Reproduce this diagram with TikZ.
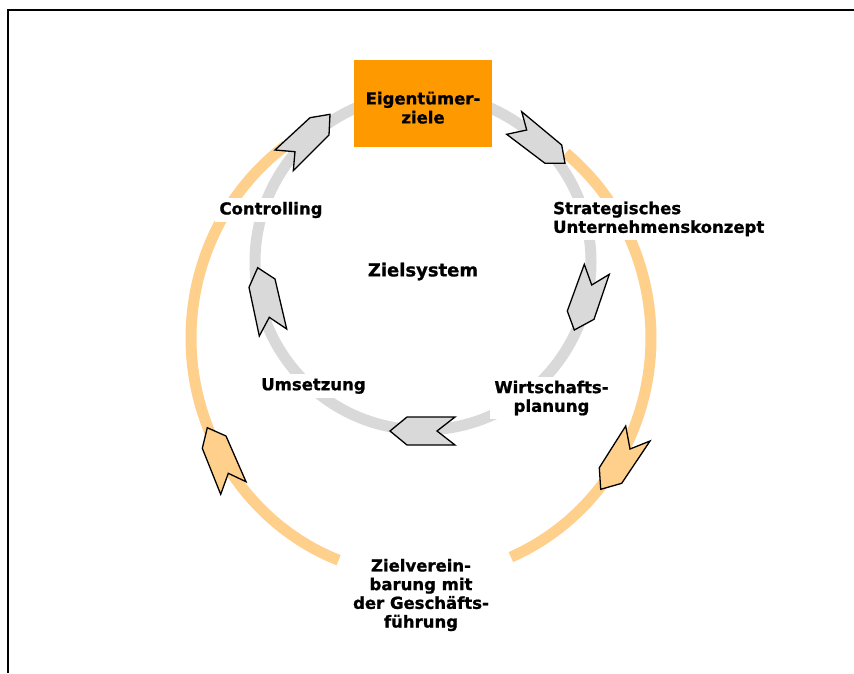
\documentclass[tikz,border=0pt]{standalone}
\usepackage{fontspec}
\setmainfont{DejaVu Sans}[BoldFeatures={FakeBold=1}]
\definecolor{ringgray}{HTML}{D9D9D9}
\definecolor{ringorange}{HTML}{FFD08C}
\definecolor{boxorange}{HTML}{FF9900}
\begin{document}
\begin{tikzpicture}[x=1pt,y=-1pt,
  lbl/.style={fill=white, inner sep=4pt, font=\bfseries\fontsize{16.5}{18.7}\selectfont, align=center},
  grayring/.style={draw=ringgray, line width=11pt},
  orangering/.style={draw=ringorange, line width=11pt},
  grayarr/.style={draw=black, fill=ringgray, line width=1.3pt, line join=miter},
  orangearr/.style={draw=black, fill=ringorange, line width=1.3pt, line join=miter},
  frame/.style={draw=black, line width=2pt}]
\useasboundingbox (0,0) rectangle (854,673);
\fill[white] (0,0) rectangle (854,673);
% frame
\coordinate (fbl) at (7.5,673);
\coordinate (ftl) at (7.5,9.5);
\coordinate (ftr) at (854,9.5);
\draw[frame] (fbl) -- (ftl) -- (ftr);
% outer orange ring (two arcs)
\draw[orangering] plot[domain=111:234, samples=90, smooth] ({421+230*cos(\x)},{338+238*sin(\x)});
\draw[orangering] plot[domain=-51:67, samples=90, smooth] ({421+230*cos(\x)},{338+238*sin(\x)});
% inner gray ring
\draw[grayring] (423,262) circle (168pt);
% labels
\node[lbl] (contr) at (271,210) {Controlling};
\node[lbl, font=\bfseries\fontsize{18}{20}\selectfont] (ziel) at (423,271.5) {Zielsystem};
\node[lbl] (ums) at (313.5,386) {Umsetzung};
\node[lbl] (wirt) at (551.5,398) {Wirtschafts-\\planung};
\node[lbl, align=left, anchor=west] (strat) at (549,218.9) {Strategisches\\Unternehmenskonzept};
\node[lbl] (zv) at (421,595) {Zielverein-\\barung mit\\der Geschäfts-\\führung};
% owner box
\node[fill=boxorange, minimum width=137.4pt, minimum height=86.7pt, inner sep=0pt] (eigbox) at (423,103.3) {};
\node[font=\bfseries\fontsize{16.5}{19}\selectfont, align=center, inner sep=0pt] (eig) at (423,107.6) {Eigentümer-\\ziele};
% gray arrows
\draw[grayarr] (521.7,111.7) -- (561.7,145) -- (565,163.3) -- (545,163.3) -- (506.7,134.3) -- (526.7,130) -- cycle;
\draw[grayarr] (584.3,264.3) -- (591.7,285) -- (609.3,274.3) -- (594,319.3) -- (574.3,330) -- (567.3,311) -- cycle;
\draw[grayarr] (390,431) -- (407,417) -- (455,417) -- (437,431) -- (455,445) -- (407,445) -- cycle;
\draw[grayarr] (257.7,267.7) -- (275,279) -- (286.7,329) -- (269.3,317.3) -- (259.3,336) -- (249,287.3) -- cycle;
\draw[grayarr] (310,117.7) -- (330,114.3) -- (329,135) -- (293.3,170.7) -- (295,151.7) -- (275,150) -- cycle;
% orange arrows
\draw[orangearr] (625.7,426) -- (630,449) -- (650,441) -- (621.7,483.3) -- (600.7,489.3) -- (599.3,467.7) -- cycle;
\draw[orangearr] (207.3,427.7) -- (226,436) -- (246,481.7) -- (228.3,473.3) -- (220.7,494.3) -- (202.3,448.3) -- cycle;
\end{tikzpicture}
\end{document}
